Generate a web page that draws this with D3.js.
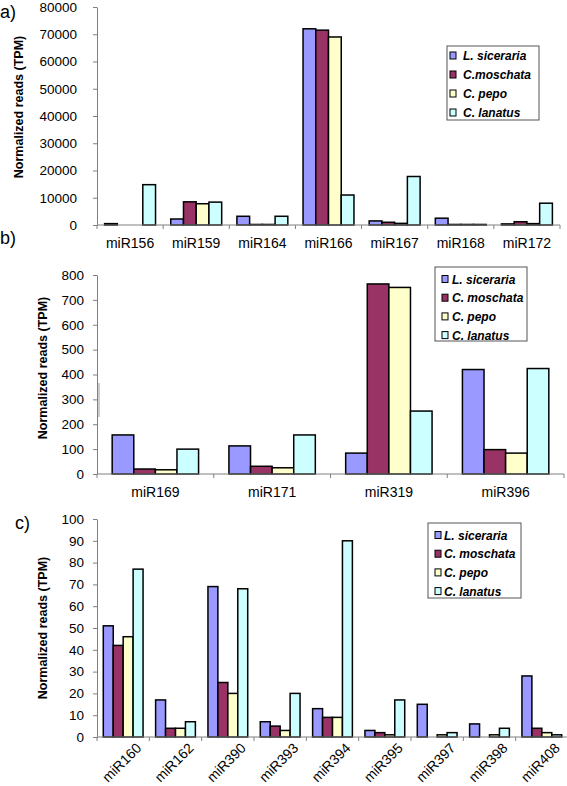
<!DOCTYPE html>
<html><head><meta charset="utf-8">
<script src="https://cdn.jsdelivr.net/npm/d3@7"></script>
<style>
body{margin:0;background:#fff;}
svg{display:block;font-family:"Liberation Sans",Arial,sans-serif;}
</style></head>
<body>
<script>
// ---- data ----
const seriesNames = ["L. siceraria", "C. moschata", "C. pepo", "C. lanatus"];
const legendA = ["L. siceraria", "C.moschata", "C. pepo", "C. lanatus"];
const colors = ["#9999ff", "#993366", "#ffffcc", "#ccffff"];

const catsA = ["miR156","miR159","miR164","miR166","miR167","miR168","miR172"];
const lsicA = [500, 2200, 3200, 72000, 1500, 2500, 400];
const cmosA = [0, 8500, 200, 71500, 1000, 200, 1200];
const cpepA = [0, 7800, 200, 69000, 600, 200, 500];
const clanA = [14800, 8400, 3200, 11000, 17800, 200, 8000];
const ticksA = [0,10000,20000,30000,40000,50000,60000,70000,80000];

const catsB = ["miR169","miR171","miR319","miR396"];
const lsicB = [157, 113, 84, 420];
const cmosB = [20, 31, 764, 98];
const cpepB = [17, 25, 750, 84];
const clanB = [100, 157, 253, 424];
const ticksB = [0,100,200,300,400,500,600,700,800];

const catsC = ["miR160","miR162","miR390","miR393","miR394","miR395","miR397","miR398","miR408"];
const lsicC = [51, 17, 69, 7, 13, 3, 15, 6, 28];
const cmosC = [42, 4, 25, 5, 9, 2, 0, 0, 4];
const cpepC = [46, 4, 20, 3, 9, 1, 1, 1, 2];
const clanC = [77, 7, 68, 20, 90, 17, 2, 4, 1];
const ticksC = [0,10,20,30,40,50,60,70,80,90,100];

const W = 567, H = 786;
const svg = d3.select("body").append("svg").attr("width", W).attr("height", H);

function panel(cfg) {
  const g = svg.append("g");
  const x = d3.scaleBand().domain(cfg.cats).range([cfg.left, cfg.right]).padding(0);
  const inner = d3.scaleBand().domain(d3.range(4))
    .range([x.bandwidth()*cfg.m, x.bandwidth()*(1-cfg.m)]).padding(0);
  const y = d3.scaleLinear().domain([0, cfg.max]).range([cfg.y0, cfg.ytop]);
  const series = [cfg.s0, cfg.s1, cfg.s2, cfg.s3];

  // bars
  cfg.cats.forEach((c, i) => {
    series.forEach((vals, s) => {
      const v = vals[i];
      if (v <= 0) return;
      g.append("rect")
        .attr("x", x(c) + inner(s))
        .attr("y", y(v))
        .attr("width", inner.bandwidth())
        .attr("height", cfg.y0 - y(v))
        .attr("fill", colors[s])
        .attr("stroke", "#000")
        .attr("stroke-width", 1.5);
    });
  });

  // y axis
  const ya = d3.axisLeft(y).tickValues(cfg.ticks).tickFormat(d3.format("d"))
    .tickSize(4).tickPadding(cfg.tp).tickSizeOuter(0);
  const yg = g.append("g").attr("transform", `translate(${cfg.left},0)`).call(ya);
  yg.select(".domain").attr("stroke", "#808080");
  yg.selectAll(".tick line").attr("stroke", "#808080");
  yg.selectAll(".tick text").attr("font-size", "13.5px").attr("fill", "#000")
    .attr("font-family", "Liberation Sans, Arial, sans-serif");

  // x axis line and ticks at category boundaries
  g.append("line").attr("x1", cfg.left).attr("x2", cfg.right)
    .attr("y1", cfg.y0).attr("y2", cfg.y0).attr("stroke", "#808080").attr("stroke-width", 1);
  cfg.cats.forEach(c => {
    const bx = x(c);
    g.append("line").attr("x1", bx).attr("x2", bx).attr("y1", cfg.y0).attr("y2", cfg.y0 + 4)
      .attr("stroke", "#808080");
  });
  g.append("line").attr("x1", cfg.right).attr("x2", cfg.right).attr("y1", cfg.y0).attr("y2", cfg.y0 + 4)
    .attr("stroke", "#808080");

  // category labels
  cfg.cats.forEach(c => {
    const cx = x(c) + x.bandwidth()/2;
    if (cfg.rotate) {
      g.append("text").text(c)
        .attr("transform", `translate(${cx + cfg.rdx},${cfg.y0 + cfg.rdy}) rotate(-45)`)
        .attr("text-anchor", "end").attr("font-size", "14px");
    } else {
      g.append("text").text(c).attr("x", cx).attr("y", cfg.labelY)
        .attr("text-anchor", "middle").attr("font-size", "14px");
    }
  });

  // y title
  g.append("text").text("Normalized reads (TPM)")
    .attr("transform", `translate(${cfg.titleX},${cfg.titleY}) rotate(-90)`)
    .attr("text-anchor", "middle").attr("font-size", "12.5px").attr("font-weight", "bold");

  // panel label
  g.append("text").text(cfg.tag).attr("x", cfg.tagX).attr("y", cfg.tagY)
    .attr("font-size", "18px");

  // legend
  const L = cfg.legend;
  g.append("rect").attr("x", L.x).attr("y", L.y).attr("width", L.w).attr("height", L.h)
    .attr("fill", "#fff").attr("stroke", "#555").attr("stroke-width", 1);
  L.names.forEach((n, s) => {
    const ry = L.y + L.r0 + s * L.dy;
    g.append("rect").attr("x", L.sx).attr("y", ry - 3.5).attr("width", 6).attr("height", 7)
      .attr("fill", colors[s]).attr("stroke", "#000").attr("stroke-width", 1);
    g.append("text").text(n).attr("x", L.tx).attr("y", ry + 4.5)
      .attr("font-size", "12px").attr("font-weight", "bold").attr("font-style", "italic");
  });
  return g;
}

panel({cats: catsA, s0: lsicA, s1: cmosA, s2: cpepA, s3: clanA, ticks: ticksA, max: 80000,
  left: 97, right: 560, y0: 225, ytop: 7, m: 0.115, tp: 16, labelY: 248,
  titleX: 23, titleY: 107, tag: "a)", tagX: 0, tagY: 18,
  legend: {x: 447, y: 46, w: 92, h: 74, r0: 9.5, dy: 19, sx: 450, tx: 463, names: legendA}});

panel({cats: catsB, s0: lsicB, s1: cmosB, s2: cpepB, s3: clanB, ticks: ticksB, max: 800,
  left: 97, right: 564, y0: 474, ytop: 275, m: 0.13, tp: 9, labelY: 497,
  titleX: 47, titleY: 368, tag: "b)", tagX: 0, tagY: 244,
  legend: {x: 435, y: 267, w: 92, h: 74, r0: 12, dy: 18.7, sx: 442, tx: 452, names: seriesNames}});

panel({cats: catsC, s0: lsicC, s1: cmosC, s2: cpepC, s3: clanC, ticks: ticksC, max: 100,
  left: 97, right: 568, y0: 737, ytop: 519, m: 0.12, tp: 9, rotate: true, rdx: 19, rdy: 12,
  titleX: 47, titleY: 628, tag: "c)", tagX: 15, tagY: 529,
  legend: {x: 428, y: 523, w: 93, h: 75, r0: 12, dy: 18.7, sx: 435, tx: 444, names: seriesNames}});

// small stray mark on panel b axis region (as in the original scan)
svg.append("line").attr("x1", 99).attr("x2", 99).attr("y1", 383).attr("y2", 417)
  .attr("stroke", "#999").attr("stroke-width", 1);
</script>
</body></html>
